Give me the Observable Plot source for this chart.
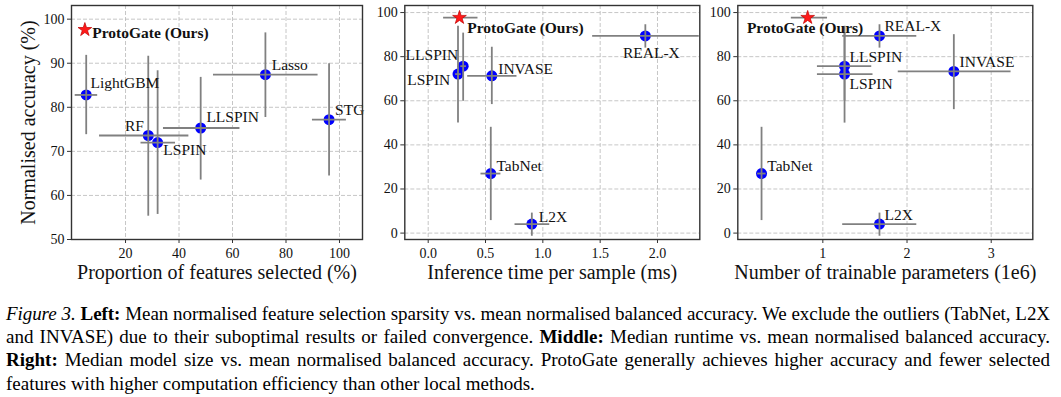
<!DOCTYPE html>
<html><head><meta charset="utf-8">
<script src="https://cdn.jsdelivr.net/npm/d3@7"></script>
<script src="https://cdn.jsdelivr.net/npm/@observablehq/plot@0.6"></script>
<style>
body{margin:0;background:#fff;width:1061px;height:397px;overflow:hidden;font-family:"Liberation Serif","Times New Roman",serif;color:#000;}
#wrap{position:relative;width:1061px;height:397px;}
.panel{position:absolute;top:0;}
#cap{position:absolute;left:6px;top:301.9px;width:1044px;font-size:19px;line-height:23.3px;color:#000;}
.j{text-align:justify;text-align-last:justify;}
</style></head><body>
<div id="wrap"></div>
<script>
// ---------- Left panel: feature selection proportion vs accuracy ----------
const leftMethods = ["ProtoGate (Ours)", "LightGBM", "RF", "LSPIN", "LLSPIN", "Lasso", "STG"];
const leftX   = [4.8, 5.3, 28.5, 32.0, 48.1, 72.3, 96.1];
const leftXLo = [4.8, 1.0, 10.1, 25.6, 34.0, 52.7, 89.7];
const leftXHi = [4.8, 9.4, 43.5, 38.5, 62.6, 91.8, 102.4];
const leftY   = [97.6, 82.8, 73.6, 72.0, 75.3, 87.4, 77.2];
const leftYLo = [97.6, 73.9, 55.4, 55.8, 63.6, 77.8, 64.5];
const leftYHi = [97.6, 91.9, 91.7, 88.4, 86.9, 97.0, 90.0];
const leftXTicks = [20, 40, 60, 80, 100];
const leftYTicks = [50, 60, 70, 80, 90, 100];

// ---------- Middle panel: inference time vs accuracy ----------
const midMethods = ["ProtoGate (Ours)", "LLSPIN", "LSPIN", "INVASE", "TabNet", "L2X", "REAL-X"];
const midX   = [0.273, 0.305, 0.26, 0.555, 0.546, 0.904, 1.894];
const midXLo = [0.13, 0.28, 0.235, 0.34, 0.456, 0.753, 1.43];
const midXHi = [0.43, 0.33, 0.285, 0.77, 0.63, 1.056, 2.36];
const midY   = [97.7, 75.7, 72.1, 71.3, 27.0, 4.1, 89.4];
const midYLo = [97.7, 60.0, 50.1, 58.5, 5.9, -1.2, 84.1];
const midYHi = [97.7, 90.9, 94.0, 84.5, 48.2, 9.3, 94.7];
const midXTicks = [0, 0.5, 1, 1.5, 2];
const midYTicks = [0, 20, 40, 60, 80, 100];

// ---------- Right panel: trainable parameters vs accuracy ----------
const rightMethods = ["ProtoGate (Ours)", "REAL-X", "LLSPIN", "LSPIN", "INVASE", "TabNet", "L2X"];
const rightX   = [0.82, 1.673, 1.258, 1.258, 2.556, 0.272, 1.673];
const rightXLo = [0.62, 1.23, 0.93, 0.93, 1.89, 0.22, 1.23];
const rightXHi = [1.05, 2.11, 1.575, 1.59, 3.23, 0.32, 2.11];
const rightY   = [97.7, 89.4, 75.7, 72.1, 73.3, 27.0, 4.1];
const rightYLo = [97.7, 84.1, 60.0, 50.1, 56.2, 5.9, -1.2];
const rightYHi = [97.7, 94.7, 90.9, 94.0, 90.2, 48.2, 9.3];
const rightXTicks = [1, 2, 3];
const rightYTicks = [0, 20, 40, 60, 80, 100];

// ---------- label placement (layout only) ----------
const leftLabelPos = {
  "ProtoGate (Ours)": [7.4, 8.3, "start"], "LightGBM": [4.3, -6.7, "start"], "RF": [-4.4, -4.7, "end"],
  "LSPIN": [5.7, 12.3, "start"], "LLSPIN": [5.7, -5.6, "start"], "Lasso": [6.3, -4.7, "start"], "STG": [6, -4.7, "start"]
};
const midLabelPos = {
  "ProtoGate (Ours)": [7.7, 15, "start"], "LLSPIN": [-5, -6.3, "end"], "LSPIN": [-7.7, 11, "end"],
  "INVASE": [6.4, -2.3, "start"], "TabNet": [5.7, -2.7, "start"], "L2X": [7, -1.6, "start"], "REAL-X": [6, 22.3, "middle"]
};
const rightLabelPos = {
  "ProtoGate (Ours)": [-2.6, 15, "middle"], "REAL-X": [5, -5, "start"], "LLSPIN": [5, -4.3, "start"],
  "LSPIN": [5, 15, "start"], "INVASE": [5.7, -4.7, "start"], "TabNet": [5.7, -2.7, "start"], "L2X": [5, -4.3, "start"]
};

const H = 290, MT = 5, MB = 51;

function panel(o) {
  const rows = o.names.map((n, i) => ({name: n, x: o.x[i], xlo: o.xlo[i], xhi: o.xhi[i], y: o.y[i], ylo: o.ylo[i], yhi: o.yhi[i], ours: i === 0}));
  const others = rows.filter(d => !d.ours), ours = rows.filter(d => d.ours);
  const grid = {stroke: "#b8b8b8", strokeOpacity: 1, strokeDasharray: "4,2", strokeWidth: 0.8};
  const err = {stroke: "#808080", strokeWidth: 1.8};
  const marks = [
    Plot.gridX(o.xTicks, grid),
    Plot.gridY(o.yTicks, grid),
    Plot.dot(others, {x: "x", y: "y", r: 5.5, fill: "#0000ff"}),
    Plot.link(rows.filter(d => d.xhi > d.xlo), {x1: "xlo", x2: "xhi", y1: "y", y2: "y", ...err}),
    Plot.link(rows.filter(d => d.yhi > d.ylo), {x1: "x", x2: "x", y1: "ylo", y2: "yhi", ...err}),
    Plot.dot(ours, {x: "x", y: "y", symbol: "star", r: 4.3, fill: "#ff1a1a", stroke: "#c00000", strokeWidth: 0.7}),
    ...rows.map(d => {
      const [dx, dy, anchor] = o.labelPos[d.name];
      return Plot.text([d], {x: "x", y: "y", text: "name", dx, dy, textAnchor: anchor, lineAnchor: "bottom",
        fontSize: 15.5, fontWeight: d.ours ? "bold" : "normal", fill: "#111"});
    }),
    Plot.frame({stroke: "#333", strokeWidth: 1.4}),
    Plot.axisX(o.xTicks, {tickSize: 4, tickPadding: 5, tickFormat: o.xFmt, fontSize: 14, stroke: "#333", label: null}),
    Plot.axisY(o.yTicks, {tickSize: 4, tickPadding: 3, fontSize: 14, stroke: "#333", label: null}),
    Plot.text([o.xLabel], {text: d => d, frameAnchor: "bottom", textAnchor: "middle", dy: 39, lineAnchor: "bottom", fontSize: 20, fill: "#111"})
  ];
  if (o.yLabel) marks.push(Plot.text([o.yLabel], {text: d => d, frameAnchor: "left", textAnchor: "middle", lineAnchor: "middle", dx: -43, rotate: -90, fontSize: 20, fill: "#111"}));
  const p = Plot.plot({
    width: o.width, height: H,
    marginLeft: o.ml, marginRight: o.mr, marginTop: MT, marginBottom: MB,
    x: {domain: o.xDomain, label: null},
    y: {domain: o.yDomain, label: null},
    style: "font-family: 'Liberation Serif', 'Times New Roman', serif; font-size: 14px; color: #111; background: transparent; overflow: visible;",
    marks
  });
  p.classList.add("panel");
  p.style.left = o.left + "px";
  p.style.position = "absolute";
  p.style.top = "0px";
  document.getElementById("wrap").appendChild(p);
}

panel({names: leftMethods, x: leftX, xlo: leftXLo, xhi: leftXHi, y: leftY, ylo: leftYLo, yhi: leftYHi,
  xDomain: [-0.2, 108.6], yDomain: [50, 103.1], xTicks: leftXTicks, yTicks: leftYTicks, xFmt: d3.format("d"),
  xLabel: "Proportion of features selected (%)", yLabel: "Normalised accuracy (%)",
  width: 366, ml: 71, mr: 4, left: 0, labelPos: leftLabelPos});

panel({names: midMethods, x: midX, xlo: midXLo, xhi: midXHi, y: midY, ylo: midYLo, yhi: midYHi,
  xDomain: [-0.204, 2.369], yDomain: [-2.9, 103.2], xTicks: midXTicks, yTicks: midYTicks, xFmt: d3.format(".1f"),
  xLabel: "Inference time per sample (ms)", yLabel: null,
  width: 337, ml: 38.3, mr: 3.7, left: 366, labelPos: midLabelPos});

panel({names: rightMethods, x: rightX, xlo: rightXLo, xhi: rightXHi, y: rightY, ylo: rightYLo, yhi: rightYHi,
  xDomain: [-0.01, 3.494], yDomain: [-2.9, 103.2], xTicks: rightXTicks, yTicks: rightYTicks, xFmt: d3.format("d"),
  xLabel: "Number of trainable parameters (1e6)", yLabel: null,
  width: 358, ml: 34.3, mr: 28.7, left: 703, labelPos: rightLabelPos});

// ---------- caption ----------
const captionLines = [
  '<i>Figure 3.</i> <b>Left:</b> Mean normalised feature selection sparsity vs. mean normalised balanced accuracy. We exclude the outliers (TabNet, L2X',
  'and INVASE) due to their suboptimal results or failed convergence. <b>Middle:</b> Median runtime vs. mean normalised balanced accuracy.',
  '<b>Right:</b> Median model size vs. mean normalised balanced accuracy. ProtoGate generally achieves higher accuracy and fewer selected',
  'features with higher computation efficiency than other local methods.'
];
const cap = document.createElement("div");
cap.id = "cap";
document.getElementById("wrap").appendChild(cap);
const CAPW = 1044;
captionLines.forEach((html, i) => {
  const line = document.createElement("div");
  line.innerHTML = html;
  line.style.whiteSpace = "nowrap";
  cap.appendChild(line);
  // measure natural width, tighten letter-spacing if needed so each line stays on one row
  const span = document.createElement("span");
  span.innerHTML = html;
  span.style.whiteSpace = "nowrap";
  span.style.position = "absolute";
  span.style.visibility = "hidden";
  cap.appendChild(span);
  const w = span.getBoundingClientRect().width;
  const n = span.textContent.length;
  cap.removeChild(span);
  if (w > CAPW - 2) line.style.letterSpacing = ((CAPW - 4 - w) / n).toFixed(3) + "px";
  line.style.whiteSpace = "normal";
  if (i < captionLines.length - 1) line.className = "j";
});
</script>
</body></html>
